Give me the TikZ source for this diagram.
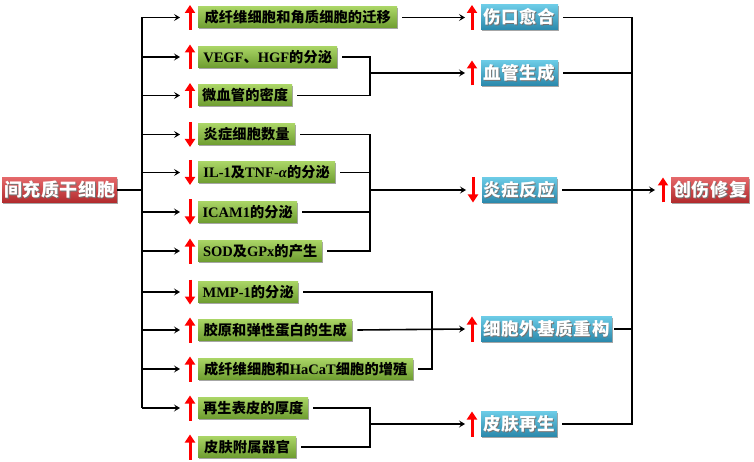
\documentclass[tikz,border=0pt]{standalone}
\usepackage{fontspec}
\setmainfont{Liberation Serif}
\newfontfamily\cjkg[LetterSpace=1]{Noto Sans CJK SC}
\newfontfamily\cjkw[LetterSpace=3]{Noto Sans CJK SC}
\usetikzlibrary{arrows.meta,shadows,calc}
\definecolor{gtop}{HTML}{A9D465}
\definecolor{gbot}{HTML}{6E9D30}
\definecolor{btop}{HTML}{6CCBE6}
\definecolor{bbot}{HTML}{2A88AB}
\definecolor{rtop}{HTML}{E4686A}
\definecolor{rbot}{HTML}{B12A2C}
\newcommand\zh[1]{{\cjkg\fontsize{14.2}{16}\selectfont #1}}
\newcommand\wt[1]{\makebox[0pt][l]{\hspace{0.9pt}\raisebox{-0.9pt}{\color{black!55}#1}}#1}
\begin{document}
\begin{tikzpicture}[x=1pt,y=-1pt,
  conn/.style={line width=1.6pt,black},
  arr/.style={conn,-{Stealth[length=6pt,width=7pt,inset=2.5pt]}},
  uparr/.style={line width=3pt,red,-{Triangle[length=8pt,width=10pt]}},
  shad/.style={drop shadow={shadow xshift=1.2pt,shadow yshift=-1.2pt,opacity=.35,fill=black}},
  gbox/.style={shad,top color=gtop,bottom color=gbot,draw=none,anchor=west,
    minimum height=21,inner xsep=2,inner ysep=0,text=black,
    font=\fontsize{14.5}{16}\selectfont\bfseries},
  bbox/.style={shad,top color=btop,bottom color=bbot,draw=none,anchor=west,
    minimum height=25,inner xsep=1,inner ysep=0,text=white,
    font=\cjkw\fontsize{17.5}{19}\selectfont\bfseries},
  rbox/.style={shad,top color=rtop,bottom color=rbot,draw=none,anchor=west,
    minimum height=25,inner xsep=1,inner ysep=0,text=white,
    font=\cjkw\fontsize{18}{20}\selectfont\bfseries}]
\useasboundingbox (0,0) rectangle (754,462);

% source
\node[rbox,minimum width=115] (src) at (2,190) {\wt{间充质干细胞}};
\coordinate (trunk) at (142,190);

% green boxes
\node[gbox,minimum width=199] (g1) at (198,17.5) {\zh{成纤维细胞和角质细胞的迁移}};
\node[gbox,minimum width=139] (g2) at (198,57) {VEGF\zh{、}HGF\zh{的分泌}};
\node[gbox,minimum width=94]  (g3) at (198,95.5) {\zh{微血管的密度}};
\node[gbox,minimum width=97]  (g4) at (198,134.5) {\zh{炎症细胞数量}};
\node[gbox,minimum width=137] (g5) at (198,172.5) {IL-1\zh{及}TNF-\textit{α}\zh{的分泌}};
\node[gbox,minimum width=99]  (g6) at (198,212) {ICAM1\zh{的分泌}};
\node[gbox,minimum width=124] (g7) at (198,251) {SOD\zh{及}GPx\zh{的产生}};
\node[gbox,minimum width=100] (g8) at (198,292) {MMP-1\zh{的分泌}};
\node[gbox,minimum width=154] (g9) at (198,330) {\zh{胶原和弹性蛋白的生成}};
\node[gbox,minimum width=215] (g10) at (198,369) {\zh{成纤维细胞和}HaCaT\zh{细胞的增殖}};
\node[gbox,minimum width=110] (g11) at (198,408) {\zh{再生表皮的厚度}};
\node[gbox,minimum width=98]  (g12) at (198,447) {\zh{皮肤附属器官}};

% blue boxes
\node[bbox,minimum width=77]  (b1) at (481,17.5) {\wt{伤口愈合}};
\node[bbox,minimum width=77]  (b2) at (481,73) {\wt{血管生成}};
\node[bbox,minimum width=75]  (b3) at (482,190) {\wt{炎症反应}};
\node[bbox,minimum width=131] (b4) at (481,329) {\wt{细胞外基质重构}};
\node[bbox,minimum width=76]  (b5) at (481,424) {\wt{皮肤再生}};

% target
\node[rbox,minimum width=78] (dst) at (671,190) {\wt{创伤修复}};

% trunk
\draw[conn] (src.east) -- (trunk);
\draw[conn] (trunk |- g1.west) -- (trunk |- g11.west);
\foreach \g in {g1,g2,g3,g4,g5,g6,g7,g8,g9,g10,g11}
  \draw[arr] (trunk |- \g.west) -- ([xshift=-18pt]\g.west);

% red up/down arrows
\foreach \g in {g1,g2,g3,g7,g9,g10,g11,g12}
  \draw[uparr] ([xshift=-8pt,yshift=-12.5pt]\g.west) -- ([xshift=-8pt,yshift=12.5pt]\g.west);
\foreach \g in {g4,g5,g6,g8}
  \draw[uparr] ([xshift=-8pt,yshift=12.5pt]\g.west) -- ([xshift=-8pt,yshift=-12.5pt]\g.west);
\foreach \b in {b1,b2,b4,b5}
  \draw[uparr] ([xshift=-9pt,yshift=-12.5pt]\b.west) -- ([xshift=-9pt,yshift=12.5pt]\b.west);
\draw[uparr] ([xshift=-9pt,yshift=12.5pt]b3.west) -- ([xshift=-9pt,yshift=-12.5pt]b3.west);
\draw[uparr] ([xshift=-8pt,yshift=-12.5pt]dst.west) -- ([xshift=-8pt,yshift=12.5pt]dst.west);

% group connectors
\coordinate (mA) at (370,73);
\coordinate (mI) at (370,190);
\coordinate (mE) at (432,330);
\coordinate (mS) at (370,424);
\coordinate (mR) at (632,190);

\draw[arr] ([xshift=5pt]g1.east) -- ([xshift=-16pt]b1.west);

\draw[conn] ([xshift=5pt]g2.east) -| (mA) |- ([xshift=5pt]g3.east);
\draw[arr] (mA) -- ([xshift=-16pt]b2.west);

\draw[conn] ([xshift=5pt]g4.east) -| (mI) |- ([xshift=5pt]g7.east);
\draw[conn] ([xshift=5pt]g5.east) -- (mI |- g5.east);
\draw[conn] ([xshift=5pt]g6.east) -- (mI |- g6.east);
\draw[arr] (mI) -- ([xshift=-16pt]b3.west);

\draw[conn] ([xshift=5pt]g8.east) -| (mE) |- ([xshift=5pt]g10.east);
\draw[arr] ([xshift=5pt]g9.east) -- ([xshift=-16pt]b4.west);

\draw[conn] ([xshift=5pt]g11.east) -| (mS) |- ([xshift=5pt]g12.east);
\draw[arr] (mS) -- ([xshift=-16pt]b5.west);

\draw[conn] ([xshift=5pt]b1.east) -| (mR) |- ([xshift=5pt]b5.east);
\draw[conn] ([xshift=5pt]b2.east) -- (mR |- b2.east);
\draw[conn] ([xshift=2pt]b4.east) -- (mR |- b4.east);
\draw[arr] ([xshift=5pt]b3.east) -- ([xshift=-16pt]dst.west);
\end{tikzpicture}
\end{document}
